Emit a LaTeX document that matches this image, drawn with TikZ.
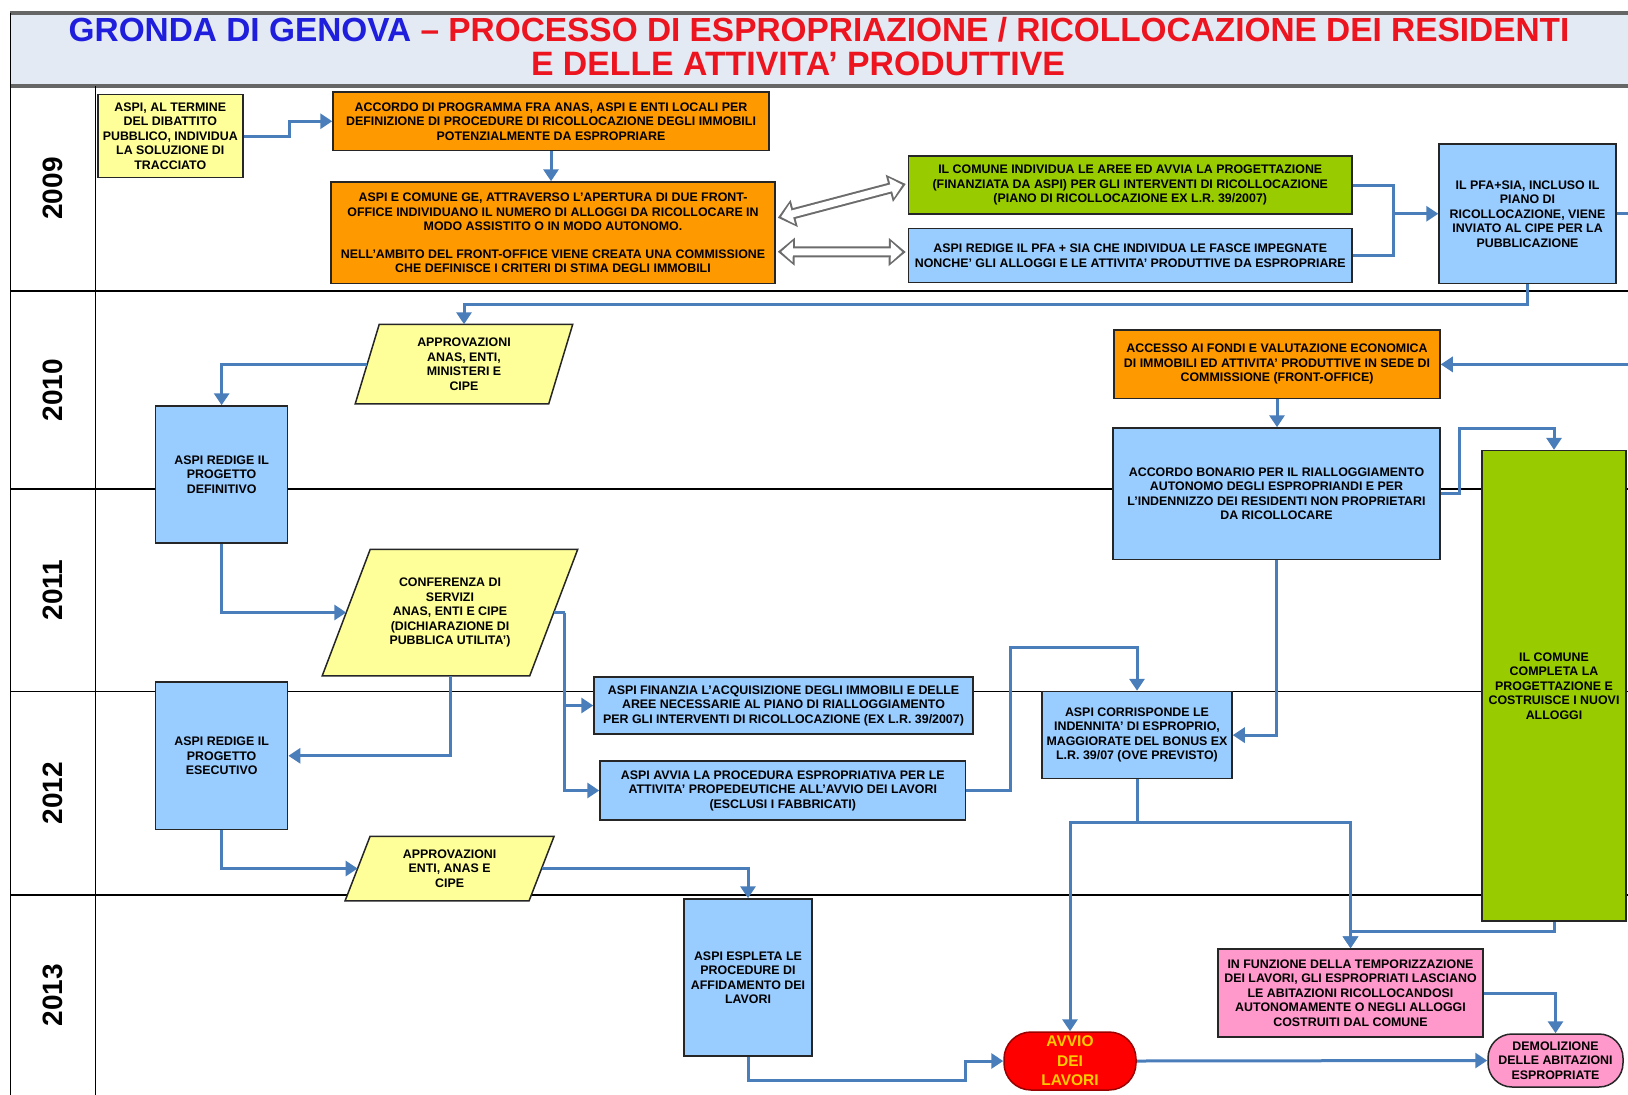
\documentclass[tikz,border=0pt]{standalone}
\usepackage{fontspec}
\setmainfont{Liberation Sans}
\usetikzlibrary{positioning, arrows.meta, calc, backgrounds}
\definecolor{boxblue}{RGB}{153, 204, 255}
\definecolor{boxorange}{RGB}{255, 153, 0}
\definecolor{boxyellow}{RGB}{255, 255, 153}
\definecolor{boxgreen}{RGB}{153, 204, 0}
\definecolor{boxpink}{RGB}{255, 153, 204}
\definecolor{flowblue}{RGB}{74, 126, 187}
\definecolor{titleblue}{RGB}{30, 30, 220}
\definecolor{titlered}{RGB}{236, 20, 30}
\definecolor{titleband}{RGB}{228, 234, 244}
\definecolor{avviotext}{RGB}{255, 204, 0}

\begin{document}
\begin{tikzpicture}[x=1pt, y=-1pt,
  box/.style={draw=black!85, line width=1.5pt, align=center, inner sep=2pt,
    font=\fontsize{12.4}{14.5}\selectfont\bfseries},
  bbox/.style={box, fill=boxblue},
  obox/.style={box, fill=boxorange},
  gbox/.style={box, fill=boxgreen},
  ybox/.style={box, fill=boxyellow},
  pbox/.style={box, fill=boxpink},
  redbox/.style={box, fill=red, draw=red!60!black, rounded corners=27pt,
    text=avviotext, font=\fontsize{15.5}{19.5}\selectfont\bfseries},
  para/.style={box, draw=none},
  paraline/.style={draw=black!85, line width=1.5pt, fill=boxyellow},
  year/.style={rotate=90, font=\fontsize{28}{28}\selectfont\bfseries},
  gridline/.style={black, line width=1.5pt},
  titlerule/.style={black!60, line width=4pt},
  flow/.style={draw=flowblue, line width=3pt, -{Triangle[length=12pt, width=15pt]}},
  flowline/.style={draw=flowblue, line width=3pt},
  hollowout/.style={draw=gray!85!black, line width=11pt,
    {Triangle[length=17pt, width=27pt]}-{Triangle[length=17pt, width=27pt]}},
  hollowin/.style={draw=white, line width=7pt, shorten <=3.5pt, shorten >=3.5pt,
    {Triangle[length=11.5pt, width=20pt]}-{Triangle[length=11.5pt, width=20pt]}}]
 \useasboundingbox (0,0) rectangle (1628,1095);

 % frame and year rows
 \begin{pgfonlayer}{background}
  \fill[white] (0,0) rectangle (1628,1095);
  \fill[titleband] (10.4,12.5) rectangle (1628,86);
  \draw[titlerule] (10.4,12.5) -- (1628,12.5);
  \draw[titlerule] (10.4,86) -- (1628,86);
  \draw[gridline] (10.4,12.5) -- (10.4,1095);
  \draw[gridline] (95.5,86) -- (95.5,1095);
  \foreach \y in {291, 489, 691.5, 895}
   \draw[gridline] (10.4,\y) -- (1628,\y);
 \end{pgfonlayer}

 \node[font=\fontsize{33.4}{33.4}\selectfont\bfseries] (titleA) at (819,30)
  {\textcolor{titleblue}{GRONDA DI GENOVA} \textcolor{titlered}{– PROCESSO DI ESPROPRIAZIONE / RICOLLOCAZIONE DEI RESIDENTI}};
 \node[font=\fontsize{33.8}{33.8}\selectfont\bfseries, text=titlered] (titleB) at (798,64)
  {E DELLE ATTIVITA’ PRODUTTIVE};

 \node[year] (y2009) at (53,188.5) {2009};
 \node[year] (y2010) at (53,390) {2010};
 \node[year] (y2011) at (53,590) {2011};
 \node[year] (y2012) at (53,793) {2012};
 \node[year] (y2013) at (53,995) {2013};

 % 2009
 \node[ybox, minimum width=145, minimum height=83] (aspi) at (170.3,136)
  {ASPI, AL TERMINE\\DEL DIBATTITO\\PUBBLICO, INDIVIDUA\\LA SOLUZIONE DI\\TRACCIATO};
 \node[obox, minimum width=436, minimum height=58.5] (accordo) at (551,121.25)
  {ACCORDO DI PROGRAMMA FRA ANAS, ASPI E ENTI LOCALI PER\\DEFINIZIONE DI PROCEDURE DI RICOLLOCAZIONE DEGLI IMMOBILI\\POTENZIALMENTE DA ESPROPRIARE};
 \node[obox, minimum width=444, minimum height=101.5] (frontoff) at (553,232.75)
  {ASPI E COMUNE GE, ATTRAVERSO L'APERTURA DI DUE FRONT-\\OFFICE INDIVIDUANO IL NUMERO DI ALLOGGI DA RICOLLOCARE IN\\MODO ASSISTITO O IN MODO AUTONOMO.\\[13pt]NELL'AMBITO DEL FRONT-OFFICE VIENE CREATA UNA COMMISSIONE\\CHE DEFINISCE I CRITERI DI STIMA DEGLI IMMOBILI};
 \node[gbox, minimum width=443.5, minimum height=58] (comune) at (1130.25,185)
  {IL COMUNE INDIVIDUA LE AREE ED AVVIA LA PROGETTAZIONE\\(FINANZIATA DA ASPI) PER GLI INTERVENTI DI RICOLLOCAZIONE\\(PIANO DI RICOLLOCAZIONE EX L.R. 39/2007)};
 \node[bbox, minimum width=443.5, minimum height=54] (pfa) at (1130.25,255.5)
  {ASPI REDIGE IL PFA + SIA CHE INDIVIDUA LE FASCE IMPEGNATE\\NONCHE' GLI ALLOGGI E LE ATTIVITA' PRODUTTIVE DA ESPROPRIARE};
 \node[bbox, minimum width=177, minimum height=139.5] (cipe) at (1527.5,213.75)
  {IL PFA+SIA, INCLUSO IL\\PIANO DI\\RICOLLOCAZIONE, VIENE\\INVIATO AL CIPE PER LA\\PUBBLICAZIONE};

 % 2010 - 2011
 \node[para, minimum width=192, minimum height=78] (apprA) at (464,364)
  {APPROVAZIONI\\ANAS, ENTI,\\MINISTERI E\\CIPE};
 \node[bbox, minimum width=132, minimum height=137] (defin) at (221.65,474.5)
  {ASPI REDIGE IL\\PROGETTO\\DEFINITIVO};
 \node[obox, minimum width=326, minimum height=68.7] (accesso) at (1277,364.35)
  {ACCESSO AI FONDI E VALUTAZIONE ECONOMICA\\DI IMMOBILI ED ATTIVITA' PRODUTTIVE IN SEDE DI\\COMMISSIONE (FRONT-OFFICE)};
 \node[bbox, minimum width=327, minimum height=131.6] (bonario) at (1276.5,493.8)
  {ACCORDO BONARIO PER IL RIALLOGGIAMENTO\\AUTONOMO DEGLI ESPROPRIANDI E PER\\L'INDENNIZZO DEI RESIDENTI NON PROPRIETARI\\DA RICOLLOCARE};
 \node[gbox, minimum width=144, minimum height=470.4] (completa) at (1554,685.8)
  {IL COMUNE\\COMPLETA LA\\PROGETTAZIONE E\\COSTRUISCE I NUOVI\\ALLOGGI};
 \node[para, minimum width=206, minimum height=125] (conf) at (450,612.5)
  {CONFERENZA DI\\SERVIZI\\ANAS, ENTI E CIPE\\(DICHIARAZIONE DI\\PUBBLICA UTILITA')};

 % 2012
 \node[bbox, minimum width=379, minimum height=57] (finanzia) at (783.5,705.5)
  {ASPI FINANZIA L'ACQUISIZIONE DEGLI IMMOBILI E DELLE\\AREE NECESSARIE AL PIANO DI RIALLOGGIAMENTO\\PER GLI INTERVENTI DI RICOLLOCAZIONE (EX L.R. 39/2007)};
 \node[bbox, minimum width=365.6, minimum height=59] (avvia) at (782.8,790.5)
  {ASPI AVVIA LA PROCEDURA ESPROPRIATIVA PER LE\\ATTIVITA' PROPEDEUTICHE ALL'AVVIO DEI LAVORI\\(ESCLUSI I FABBRICATI)};
 \node[bbox, minimum width=190, minimum height=87.2] (corrisp) at (1137,735.1)
  {ASPI CORRISPONDE LE\\INDENNITA' DI ESPROPRIO,\\MAGGIORATE DEL BONUS EX\\L.R. 39/07 (OVE PREVISTO)};
 \node[bbox, minimum width=132, minimum height=147.6] (esec) at (221.65,755.8)
  {ASPI REDIGE IL\\PROGETTO\\ESECUTIVO};
 \node[para, minimum width=182.5, minimum height=63] (apprB) at (449.6,868.5)
  {APPROVAZIONI\\ENTI, ANAS E\\CIPE};

 % 2013
 \node[bbox, minimum width=128, minimum height=157] (espleta) at (748,977.5)
  {ASPI ESPLETA LE\\PROCEDURE DI\\AFFIDAMENTO DEI\\LAVORI};
 \node[redbox, minimum width=132, minimum height=58] (avvio) at (1070,1061)
  {AVVIO\\DEI\\LAVORI};
 \node[pbox, minimum width=265, minimum height=88] (infunz) at (1350.5,993)
  {IN FUNZIONE DELLA TEMPORIZZAZIONE\\DEI LAVORI, GLI ESPROPRIATI LASCIANO\\LE ABITAZIONI RICOLLOCANDOSI\\AUTONOMAMENTE O NEGLI ALLOGGI\\COSTRUITI DAL COMUNE};
 \node[pbox, rounded corners=24pt, minimum width=135, minimum height=53] (demol) at (1555.5,1060.5)
  {DEMOLIZIONE\\DELLE ABITAZIONI\\ESPROPRIATE};

 % parallelograms behind their texts
 \begin{pgfonlayer}{background}
  \foreach \p/\s in {apprA/24, conf/48, apprB/25}
   \draw[paraline] ([xshift=-\s/2]\p.south west) -- ([xshift=-\s/2]\p.south east)
     -- ([xshift=\s/2]\p.north east) -- ([xshift=\s/2]\p.north west) -- cycle;
 \end{pgfonlayer}

 % connectors 2009
 \draw[flow] (aspi.east) -- ++(46,0) |- (accordo.west);
 \draw[flow] (accordo.south) -- (accordo.south |- frontoff.north);
 \coordinate (hA1) at ($(frontoff.east)+(2,-15)$);
 \coordinate (hA2) at ($(comune.west)+(-2,-1)$);
 \coordinate (hB1) at ($(frontoff.east)+(2,19)$);
 \coordinate (hB2) at ($(pfa.west)+(-2,-3.5)$);
 \draw[hollowout] (hA1) -- (hA2);
 \draw[hollowin] (hA1) -- (hA2);
 \draw[hollowout] (hB1) -- (hB2);
 \draw[hollowin] (hB1) -- (hB2);
 \coordinate (jA) at (1393,213.75);
 \draw[flowline] (comune.east) -| (jA);
 \draw[flowline] (pfa.east) -| (jA);
 \draw[flow] (jA) -- (cipe.west);
 \coordinate (edgeA) at (1628,213.75);
 \coordinate (edgeB) at (1628,364.35);
 \draw[flowline] (cipe.east) -- (edgeA);
 \draw[flow] (edgeB) -- (accesso.east);
 \draw[flow] (cipe.south) -- ++(0,20.5) -| (apprA.north);

 % connectors 2010 - 2011
 \draw[flow] (apprA.west) -| (defin.north);
 \draw[flow] (accesso.south) -- (accesso.south |- bonario.north);
 \draw[flow] (bonario.east) -- ++(19,0) -- ++(0,-65) -| (completa.north);
 \draw[flow] (bonario.south) |- (corrisp.east);
 \draw[flow] (defin.south) |- (conf.west);
 \draw[flow] (conf.south) |- (esec.east);
 \draw[flowline] (conf.east) -- ++(11,0) coordinate (cJ);
 \draw[flow] (cJ) |- (finanzia.west);
 \draw[flow] (cJ) |- (avvia.west);

 % connectors 2012 - 2013
 \draw[flow] (avvia.east) -- ++(44,0) -- ++(0,-143.5) -| (corrisp.north);
 \draw[flowline] (corrisp.south) -- ++(0,43.3) coordinate (cS);
 \draw[flow] (cS) -| (avvio.north);
 \draw[flow] (cS) -| (infunz.north);
 \draw[flow] (esec.south) |- (apprB.west);
 \draw[flow] (apprB.east) -| (espleta.north);
 \draw[flow] (espleta.south) -- ++(0,24) -- ++(217.6,0) |- (avvio.west);
 \draw[flow] (avvio.east) -- (demol.west);
 \draw[flow] (completa.south) -- ++(0,10) -| (infunz.north);
 \draw[flow] (infunz.east) -| (demol.north);
\end{tikzpicture}
\end{document}
